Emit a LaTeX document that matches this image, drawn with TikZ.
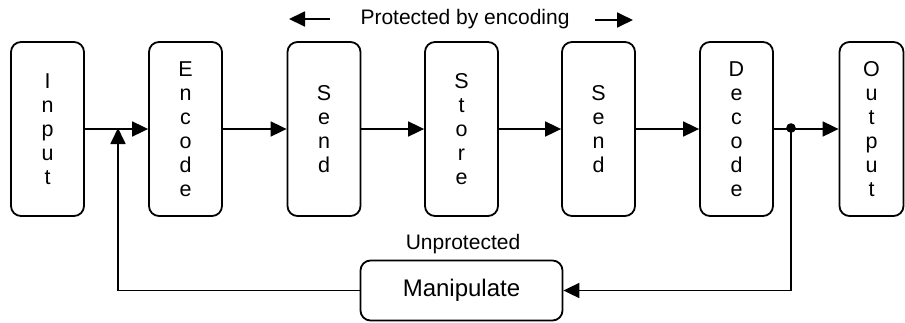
\documentclass[tikz,border=0pt]{standalone}
\usepackage{fontspec}
\setmainfont{Liberation Sans}
\usetikzlibrary{arrows.meta}
\begin{document}
\begin{tikzpicture}[x=1pt,y=-1pt,
  stage/.style={draw, line width=1.8pt, rounded corners=10pt,
    minimum width=73pt, minimum height=174pt, inner sep=0pt,
    align=center, font=\fontsize{21.5}{24}\selectfont},
  flow/.style={line width=1.8pt, -{Triangle[length=16pt,width=15pt]}},
  tag/.style={font=\fontsize{21}{24}\selectfont, inner sep=0pt}]
\useasboundingbox (0,0) rectangle (905,322);

% pipeline stages, letters stacked vertically
\node[stage] (in)   at (47.5,129)  {I\\n\\p\\u\\t};
\node[stage] (enc)  at (185.5,129) {E\\n\\c\\o\\d\\e};
\node[stage] (snd1) at (324,129)   {S\\e\\n\\d};
\node[stage] (sto)  at (461.5,129) {S\\t\\o\\r\\e};
\node[stage] (snd2) at (598.5,129) {S\\e\\n\\d};
\node[stage] (dec)  at (736.5,129) {D\\e\\c\\o\\d\\e};
\node[stage, minimum width=64pt] (out) at (871.5,129) {O\\u\\t\\p\\u\\t};

% manipulation step outside the protected path
\node[draw, line width=1.8pt, rounded corners=10pt, minimum width=202pt,
  minimum height=60pt, font=\fontsize{24}{28}\selectfont] (man) at (461.5,290.5) {Manipulate};

% labels
\node[tag] (prot) at (465,19) {Protected by encoding};
\node[tag] (unp) at (463,244) {Unprotected};

% range arrows beside the top label
\coordinate (pl1) at (330,19);
\coordinate (pl2) at (289,19);
\coordinate (pr1) at (595,20);
\coordinate (pr2) at (633,20);
\draw[flow] (pl1) -- (pl2);
\draw[flow] (pr1) -- (pr2);

% main flow
\draw[flow] (in) -- (enc);
\draw[flow] (enc) -- (snd1);
\draw[flow] (snd1) -- (sto);
\draw[flow] (sto) -- (snd2);
\draw[flow] (snd2) -- (dec);
\draw[flow] (dec) -- (out);

% feedback loop through manipulation
\coordinate (split) at (791,128);
\coordinate (join) at (118,128);
\fill (split) circle (4.8pt);
\draw[flow] (split) |- (man.east);
\draw[flow] (man.west) -| (join);
\end{tikzpicture}
\end{document}
